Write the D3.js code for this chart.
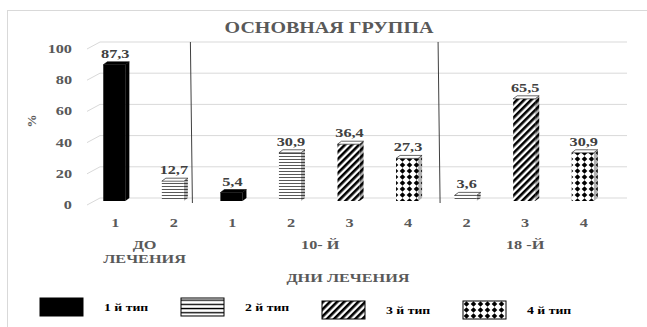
<!DOCTYPE html>
<html>
<head>
<meta charset="utf-8">
<script src="https://cdn.jsdelivr.net/npm/d3@7"></script>
<style>
  body { margin: 0; background: #fff; }
</style>
</head>
<body>
<svg id="chart" width="647" height="327" font-family="'Liberation Serif', 'DejaVu Serif', serif" font-weight="bold"></svg>
<script>
// data
const categories = ["1", "2", "1", "2", "3", "4", "2", "3", "4"];
const barTypes = [1, 2, 1, 2, 3, 4, 2, 3, 4];
const values = [87.3, 12.7, 5.4, 30.9, 36.4, 27.3, 3.6, 65.5, 30.9];
const valueLabels = ["87,3", "12,7", "5,4", "30,9", "36,4", "27,3", "3,6", "65,5", "30,9"];
const groupNames = [["ДО", "ЛЕЧЕНИЯ"], ["10- Й"], ["18 -Й"]];
const groupRanges = [[0, 1], [2, 5], [6, 8]];
const yTicks = [0, 20, 40, 60, 80, 100];
const legendLabels = ["1 й тип", "2 й тип", "3 й тип", "4 й тип"];

const svg = d3.select("#chart");
const defs = svg.append("defs");
const sx = 1.25; // text in the picture is stretched horizontally

// place a text at (x,y) with the horizontal stretch
const put = (sel, x, y) => sel.attr("transform", `translate(${x},${y}) scale(${sx},1)`);

// fill patterns
const p2 = defs.append("pattern").attr("id", "t2").attr("patternUnits", "userSpaceOnUse")
  .attr("width", 4).attr("height", 3);
p2.append("rect").attr("width", 4).attr("height", 3).attr("fill", "#fff");
p2.append("rect").attr("y", 0).attr("width", 4).attr("height", 1).attr("fill", "#595959");

// legend version of the lines pattern (coarser, black)
const p2l = defs.append("pattern").attr("id", "t2l").attr("patternUnits", "userSpaceOnUse")
  .attr("width", 4).attr("height", 4.2);
p2l.append("rect").attr("width", 4).attr("height", 4.2).attr("fill", "#fff");
p2l.append("rect").attr("y", 1.5).attr("width", 4).attr("height", 1.3).attr("fill", "#000");

const p3 = defs.append("pattern").attr("id", "t3").attr("patternUnits", "userSpaceOnUse")
  .attr("width", 5).attr("height", 5).attr("patternTransform", "rotate(45)");
p3.append("rect").attr("width", 5).attr("height", 5).attr("fill", "#fff");
p3.append("rect").attr("width", 2.6).attr("height", 5).attr("fill", "#000");

const p4 = defs.append("pattern").attr("id", "t4").attr("patternUnits", "userSpaceOnUse")
  .attr("width", 7).attr("height", 6);
p4.append("rect").attr("width", 7).attr("height", 6).attr("fill", "#fff");
p4.append("path").attr("d", "M3.5,0.3L6.3,3L3.5,5.7L0.7,3Z").attr("fill", "#000");

const fills = { 1: "#000", 2: "url(#t2)", 3: "url(#t3)", 4: "url(#t4)" };
const legendFills = ["#000", "url(#t2l)", "url(#t3)", "url(#t4)"];

// outer frame
svg.append("rect")
  .attr("x", 7.5).attr("y", 10.5).attr("width", 700).attr("height", 400)
  .attr("fill", "none").attr("stroke", "#d9d9d9");

// scales
const x = d3.scaleBand().domain(d3.range(categories.length))
  .range([85, 612]).paddingInner(0.624).paddingOuter(0.312);
const y = d3.scaleLinear().domain([0, 100]).range([201, 45]);
const wallDx = 15, wallDy = -3;   // back wall offset
const sideDx = -13, sideDy = 7;   // side wall front edge

// gridlines on back wall + side wall
const grid = svg.append("g");
yTicks.forEach(v => {
  const yb = y(v) + wallDy;
  grid.append("line")
    .attr("x1", x.range()[0] + wallDx).attr("x2", x.range()[1] + wallDx)
    .attr("y1", yb).attr("y2", yb)
    .attr("stroke", "#d9d9d9").attr("stroke-width", 1);
  grid.append("line")
    .attr("x1", x.range()[0] + wallDx).attr("y1", yb)
    .attr("x2", x.range()[0] + wallDx + sideDx).attr("y2", yb + sideDy)
    .attr("stroke", "#d9d9d9").attr("stroke-width", 1);
});

// y labels
svg.append("g").selectAll("text").data(yTicks).join("text")
  .each(function (d) { put(d3.select(this), 72, y(d) + wallDy + sideDy + 4); })
  .attr("text-anchor", "end").attr("font-size", 13).attr("fill", "#595959")
  .text(d => d);

svg.append("text")
  .attr("transform", `translate(36,${y(50) - 2}) rotate(-90)`)
  .attr("text-anchor", "middle").attr("font-size", 13).attr("fill", "#595959")
  .text("%");

// group separators
const step = x.step();
[1.8, 6.03].forEach(p => {
  const px = x.range()[0] + p * step;
  svg.append("line")
    .attr("x1", px).attr("y1", y(100) + wallDy)
    .attr("x2", px + 2).attr("y2", y(0) + 2)
    .attr("stroke", "#404040").attr("stroke-width", 1);
});

// bars (thin 3D columns)
const bw = x.bandwidth();
const dx = 4, dy = -3;
const bars = svg.append("g").selectAll("g").data(values).join("g");

bars.each(function (v, i) {
  const g = d3.select(this);
  const x0 = x(i), yt = y(v), yb = y(0);
  const f = fills[barTypes[i]];
  // side face
  const side = `M${x0 + bw},${yt}L${x0 + bw + dx},${yt + dy}L${x0 + bw + dx},${yb + dy}L${x0 + bw},${yb}Z`;
  g.append("path").attr("d", side).attr("fill", f);
  g.append("path").attr("d", side).attr("fill", "#000").attr("opacity", 0.3);
  // front face
  g.append("rect").attr("x", x0).attr("y", yt).attr("width", bw).attr("height", yb - yt)
    .attr("fill", f);
  // top face
  g.append("path")
    .attr("d", `M${x0},${yt}L${x0 + dx},${yt + dy}L${x0 + bw + dx},${yt + dy}L${x0 + bw},${yt}Z`)
    .attr("fill", barTypes[i] === 1 ? "#000" : "#fff")
    .attr("stroke", "#000").attr("stroke-width", 0.6);
});

// value labels
svg.append("g").selectAll("text").data(values).join("text")
  .each(function (d, i) { put(d3.select(this), x(i) + bw / 2 + 1, y(d) - 7); })
  .attr("text-anchor", "middle").attr("font-size", 13).attr("fill", "#404040")
  .text((d, i) => valueLabels[i]);

// category labels
svg.append("g").selectAll("text").data(categories).join("text")
  .each(function (d, i) { put(d3.select(this), x(i) + bw / 2 + 1, 227); })
  .attr("text-anchor", "middle").attr("font-size", 13).attr("fill", "#595959")
  .text(d => d);

// group labels
groupNames.forEach((lines, gi) => {
  const [a, b] = groupRanges[gi];
  const cx = (x(a) + x(b)) / 2 + bw / 2 + 1;
  lines.forEach((s, li) => {
    put(svg.append("text"), cx, 249 + li * 14)
      .attr("text-anchor", "middle").attr("font-size", 13).attr("fill", "#595959")
      .text(s);
  });
});

// axis title and chart title
put(svg.append("text"), 348, 282)
  .attr("text-anchor", "middle").attr("font-size", 13).attr("fill", "#595959")
  .text("ДНИ ЛЕЧЕНИЯ");

put(svg.append("text"), 329, 33)
  .attr("text-anchor", "middle").attr("font-size", 16).attr("fill", "#595959")
  .text("ОСНОВНАЯ ГРУППА");

// legend
const legend = svg.append("g").selectAll("g").data(legendLabels).join("g")
  .attr("transform", (d, i) => `translate(${40 + i * 141},${298 + (i > 1 ? 3 : 0)})`);
legend.append("rect").attr("width", 43).attr("height", 18)
  .attr("fill", (d, i) => legendFills[i]).attr("stroke", "#000").attr("stroke-width", 1);
legend.append("text")
  .attr("transform", `translate(64,13) scale(${sx},1)`)
  .attr("font-size", 11).attr("fill", "#000")
  .text(d => d);
</script>
</body>
</html>
